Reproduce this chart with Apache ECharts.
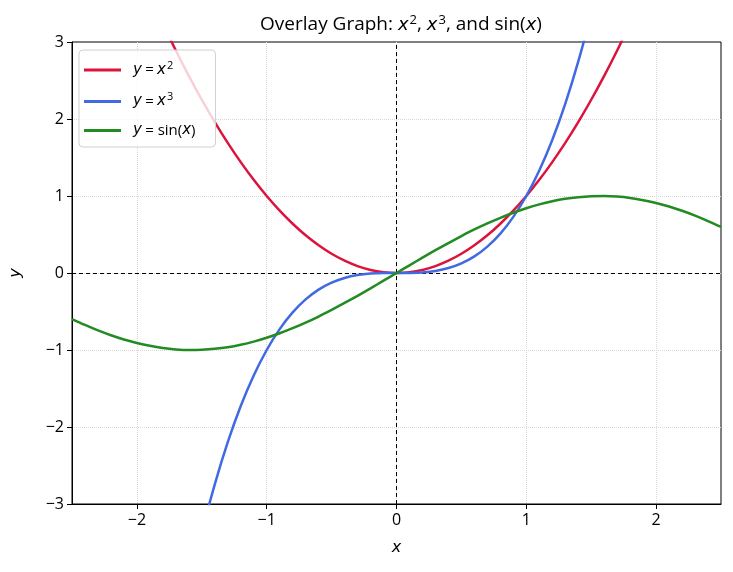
<!DOCTYPE html>
<html>
<head>
<meta charset="utf-8">
<script src="https://cdn.jsdelivr.net/npm/echarts@6/dist/echarts.min.js"></script>
<style>
html, body { margin: 0; padding: 0; background: #fff; }
#container { width: 733px; height: 572px; }
</style>
</head>
<body>
<div id="container"></div>
<script>
// x positions the curves were read at
const xValues = [
	-2.5, -2.4, -2.3, -2.2, -2.1, -2.0, -1.9, -1.8, -1.7, -1.6,
	-1.5, -1.4, -1.3, -1.2, -1.1, -1.0, -0.9, -0.8, -0.7, -0.6,
	-0.5, -0.4, -0.3, -0.2, -0.1, 0.0, 0.1, 0.2, 0.3, 0.4,
	0.5, 0.6, 0.7, 0.8, 0.9, 1.0, 1.1, 1.2, 1.3, 1.4,
	1.5, 1.6, 1.7, 1.8, 1.9, 2.0, 2.1, 2.2, 2.3, 2.4, 2.5,
];
const squareValues = [
	6.25, 5.76, 5.29, 4.84, 4.41, 4.0, 3.61, 3.24, 2.89, 2.56,
	2.25, 1.96, 1.69, 1.44, 1.21, 1.0, 0.81, 0.64, 0.49, 0.36,
	0.25, 0.16, 0.09, 0.04, 0.01, 0.0, 0.01, 0.04, 0.09, 0.16,
	0.25, 0.36, 0.49, 0.64, 0.81, 1.0, 1.21, 1.44, 1.69, 1.96,
	2.25, 2.56, 2.89, 3.24, 3.61, 4.0, 4.41, 4.84, 5.29, 5.76, 6.25,
];
const cubeValues = [
	-15.63, -13.82, -12.17, -10.65, -9.26, -8.0, -6.86, -5.83, -4.91, -4.1,
	-3.375, -2.744, -2.197, -1.728, -1.331, -1.0, -0.729, -0.512, -0.343, -0.216,
	-0.125, -0.064, -0.027, -0.008, -0.001, 0.0, 0.001, 0.008, 0.027, 0.064,
	0.125, 0.216, 0.343, 0.512, 0.729, 1.0, 1.331, 1.728, 2.197, 2.744,
	3.375, 4.1, 4.91, 5.83, 6.86, 8.0, 9.26, 10.65, 12.17, 13.82, 15.63,
];
const sineValues = [
	-0.598, -0.675, -0.746, -0.808, -0.863, -0.909, -0.946, -0.974, -0.992, -1.0,
	-0.997, -0.985, -0.964, -0.932, -0.891, -0.841, -0.783, -0.717, -0.644, -0.565,
	-0.479, -0.389, -0.296, -0.199, -0.1, 0.0, 0.1, 0.199, 0.296, 0.389,
	0.479, 0.565, 0.644, 0.717, 0.783, 0.841, 0.891, 0.932, 0.964, 0.985,
	0.997, 1.0, 0.992, 0.974, 0.946, 0.909, 0.863, 0.808, 0.746, 0.675, 0.598,
];
const seriesNames = ['y = x^2', 'y = x^3', 'y = sin(x)'];
const seriesColors = ['#DC143C', '#4169E1', '#228B22'];

const font = 'Open Sans';
const mathFont = 'DejaVu Sans';
const pairs = (ys) => xValues.map((x, i) => [x, ys[i]]);
const minus = (v) => String(v).replace('-', '\u2212');

const legendText = {
	'y = x^2': '{i|y} {n|=} {i|x}{s|2}',
	'y = x^3': '{i|y} {n|=} {i|x}{s|3}',
	'y = sin(x)': '{i|y} {n|= sin(}{i|x}{n|)}',
};

const dom = document.getElementById('container');
const myChart = echarts.init(dom, null, { renderer: 'canvas' });

const gridLine = { show: true, showMinLine: false, showMaxLine: false, lineStyle: { color: '#d8d8d8', type: 'dotted', width: 1 } };

const option = {
	backgroundColor: '#fff',
	animation: false,
	title: {
		text: '{n|Overlay Graph: }{i|x}{s|2}{n|, }{i|x}{s|3}{n|, and sin(}{i|x}{n|)}',
		left: 396,
		textAlign: 'center',
		top: 9,
		textStyle: {
			fontWeight: 'normal',
			rich: {
				n: { fontFamily: font, fontSize: 19, fontWeight: 'normal', color: '#000' },
				i: { fontFamily: mathFont, fontSize: 18, fontStyle: 'italic', fontWeight: 'normal', color: '#000' },
				s: { fontFamily: font, fontSize: 13, fontWeight: 'normal', color: '#000', verticalAlign: 'top', padding: [0, 0, 9, 1] },
			},
		},
	},
	legend: {
		orient: 'vertical',
		left: 79,
		top: 50,
		padding: [10, 20, 9, 5],
		itemGap: 14,
		itemWidth: 37,
		itemHeight: 3,
		icon: 'rect',
		backgroundColor: 'rgba(255,255,255,0.8)',
		borderColor: '#d0d0d0',
		borderWidth: 1,
		borderRadius: 4,
		data: seriesNames,
		formatter: (name) => legendText[name],
		textStyle: {
			padding: [0, 0, 0, 7],
			rich: {
				n: { fontFamily: font, fontSize: 15, color: '#000', lineHeight: 18 },
				i: { fontFamily: mathFont, fontSize: 15, fontStyle: 'italic', color: '#000', lineHeight: 18 },
				s: { fontFamily: font, fontSize: 11, color: '#000', verticalAlign: 'top', padding: [0, 0, 9, 1] },
			},
		},
	},
	grid: {
		left: 70,
		right: 12,
		top: 42,
		bottom: 68,
		show: true,
		borderColor: '#000',
		borderWidth: 1,
	},
	xAxis: {
		type: 'value',
		min: -2.5,
		max: 2.5,
		splitNumber: 5,
		name: 'x',
		nameLocation: 'middle',
		nameGap: 36,
		nameTextStyle: { fontFamily: mathFont, fontSize: 16, fontStyle: 'italic', color: '#000' },
		axisLine: { onZero: false, lineStyle: { color: '#000', width: 1 } },
		axisTick: { show: true, length: 5, lineStyle: { color: '#000' } },
		axisLabel: {
			showMinLabel: false,
			showMaxLabel: false,
			margin: 8,
			fontFamily: font,
			fontSize: 16,
			color: '#000',
			formatter: minus,
		},
		splitLine: gridLine,
	},
	yAxis: {
		type: 'value',
		min: -3,
		max: 3,
		interval: 1,
		name: 'y',
		nameLocation: 'middle',
		nameGap: 48,
		nameTextStyle: { fontFamily: mathFont, fontSize: 16, fontStyle: 'italic', color: '#000' },
		axisLine: { onZero: false, lineStyle: { color: '#000', width: 1 } },
		axisTick: { show: true, length: 5, lineStyle: { color: '#000' } },
		axisLabel: {
			margin: 8,
			fontFamily: font,
			fontSize: 16,
			color: '#000',
			formatter: minus,
		},
		splitLine: gridLine,
	},
	series: [
		{
			name: seriesNames[0],
			type: 'line',
			data: pairs(squareValues),
			showSymbol: false,
			symbol: 'none',
			smooth: 0.3,
			clip: true,
			color: seriesColors[0],
			lineStyle: { width: 2.5 },
			z: 3,
			markLine: {
				silent: true,
				symbol: 'none',
				label: { show: false },
				lineStyle: { color: '#000', type: [4, 3], width: 1 },
				data: [{ xAxis: 0 }, { yAxis: 0 }],
				z: 1,
			},
		},
		{
			name: seriesNames[1],
			type: 'line',
			data: pairs(cubeValues),
			showSymbol: false,
			symbol: 'none',
			smooth: 0.3,
			clip: true,
			color: seriesColors[1],
			lineStyle: { width: 2.5 },
			z: 4,
		},
		{
			name: seriesNames[2],
			type: 'line',
			data: pairs(sineValues),
			showSymbol: false,
			symbol: 'none',
			smooth: 0.3,
			clip: true,
			color: seriesColors[2],
			lineStyle: { width: 2.5 },
			z: 5,
		},
	],
};

if (option && typeof option === 'object') {
	myChart.setOption(option);
}
</script>
</body>
</html>
